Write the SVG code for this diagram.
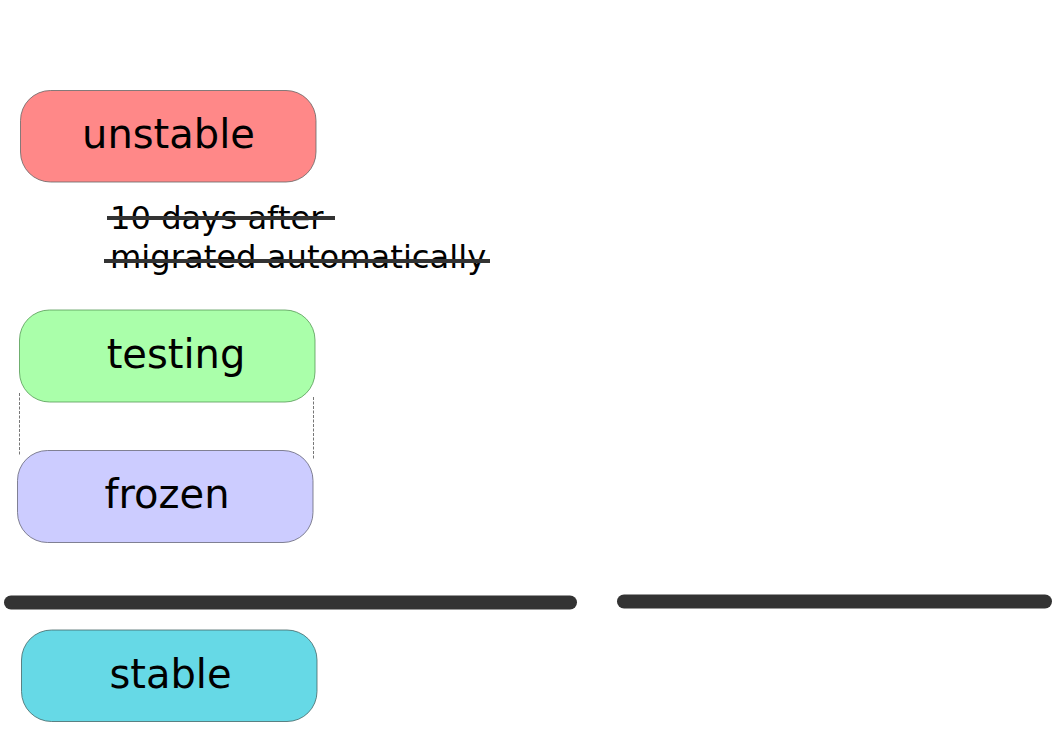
<svg xmlns="http://www.w3.org/2000/svg" width="1052" height="744" viewBox="0 0 1052 744">
<style>
.node{stroke-width:0.8}
.lbl{font-family:"DejaVu Sans",sans-serif;font-size:40px;fill:#000;text-anchor:middle}
.note{font-family:"DejaVu Sans",sans-serif;font-size:32.2px;fill:#000}
.strike{stroke:#333;stroke-width:4;fill:none}
.bar{stroke:#333;stroke-width:14;stroke-linecap:round;fill:none}
.dash{stroke:#777;stroke-width:1;stroke-dasharray:3,1.5;fill:none}
</style>
<rect width="1052" height="744" fill="#fff"/>
<g id="unstable">
<rect class="node" x="20.5" y="90.5" width="295.5" height="91.5" rx="30" fill="#ff8888" stroke="#666"/>
<text class="lbl" x="168.5" y="148">unstable</text>
</g>
<g id="note">
<text class="note" x="110" y="229">10 days after</text>
<text class="note" x="110" y="268">migrated automatically</text>
<line class="strike" x1="107" y1="218" x2="335" y2="218"/>
<line class="strike" x1="104" y1="261" x2="490" y2="261"/>
</g>
<g id="testing">
<rect class="node" x="19.5" y="310" width="295.5" height="92" rx="30" fill="#aaffaa" stroke="#595"/>
<text class="lbl" x="176" y="368">testing</text>
</g>
<g id="frozen">
<rect class="node" x="17.5" y="450.5" width="295.5" height="92" rx="30" fill="#ccccff" stroke="#667"/>
<text class="lbl" x="167" y="508">frozen</text>
</g>
<g id="stable">
<rect class="node" x="21.5" y="630" width="295.5" height="91.5" rx="30" fill="#66d9e6" stroke="#466"/>
<text class="lbl" x="170.5" y="688">stable</text>
</g>
<g id="connectors">
<line class="dash" x1="19.5" y1="393" x2="19.5" y2="456"/>
<line class="dash" x1="313.5" y1="397" x2="313.5" y2="460"/>
<line class="bar" x1="11" y1="602.5" x2="570" y2="602.5"/>
<line class="bar" x1="624" y1="601.5" x2="1045" y2="601.5"/>
</g>
</svg>
